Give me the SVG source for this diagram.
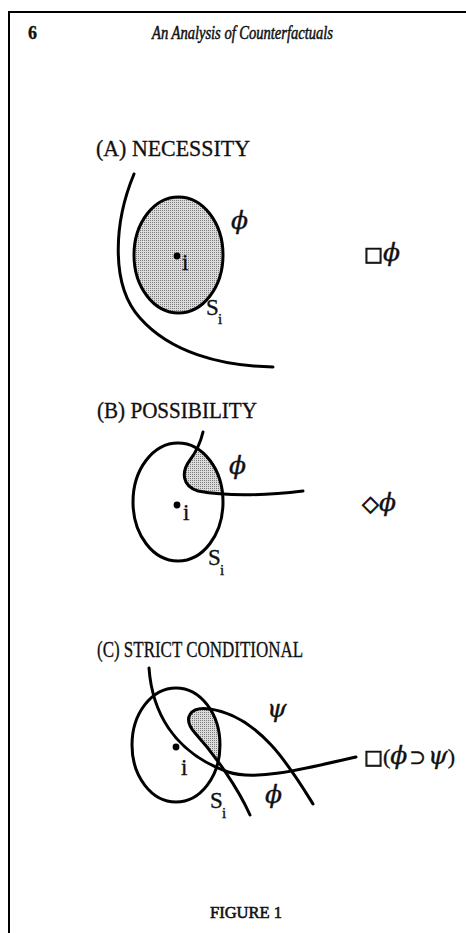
<svg xmlns="http://www.w3.org/2000/svg" width="466" height="933" viewBox="0 0 466 933">
<style>
.ln{fill:none;stroke:#000;stroke-width:3;stroke-linecap:round;stroke-linejoin:round}
.t{font-family:"Liberation Serif","DejaVu Serif",serif;fill:#111;stroke:#111;stroke-width:0.35}
.it{font-style:italic}
.hd{font-size:24px}
.lab{font-size:23px}
.sub{font-size:15px}
.gr{font-family:"DejaVu Serif","Liberation Serif",serif;font-size:25px;font-style:italic}
.sym{font-family:"DejaVu Sans",sans-serif;stroke-width:0.8}
</style>
<defs>
<pattern id="stip" width="2" height="2" patternUnits="userSpaceOnUse">
<rect width="2" height="2" fill="#dcdcdc"/>
<rect width="1" height="1" fill="#7a7a7a"/>
</pattern>
<clipPath id="clipB"><ellipse cx="178" cy="502" rx="45" ry="59"/></clipPath>
<clipPath id="clipC"><ellipse cx="176" cy="745" rx="44" ry="57"/></clipPath>
</defs>
<rect width="466" height="933" fill="#fff"/>
<g id="frame">
<path d="M9,933 V12 H466" fill="none" stroke="#000" stroke-width="2"/>
</g>
<g id="header">
<text class="t" x="28" y="39" font-size="18" font-weight="bold">6</text>
<text class="t it" x="152" y="39" font-size="18" textLength="181" lengthAdjust="spacingAndGlyphs" style="stroke-width:0.5">An Analysis of Counterfactuals</text>
</g>
<g id="panelA">
<text class="t hd" x="96" y="156" textLength="154" lengthAdjust="spacingAndGlyphs">(A) NECESSITY</text>
<g id="A-Si">
<ellipse cx="178.5" cy="255" rx="44.5" ry="58" class="ln" style="fill:url(#stip)"/>
<circle cx="177" cy="256" r="3.4" fill="#000"/>
<text class="t lab" x="182" y="270">i</text>
<text class="t lab" x="206" y="315">S</text>
<text class="t sub" x="218" y="324">i</text>
</g>
<g id="A-phi">
<path class="ln" d="M134,174 C114,222 110,285 140,318 C170,352 220,366 273,367"/>
<text class="t gr" x="231" y="229">ϕ</text>
</g>
<text class="t" x="364" y="261"><tspan class="sym" font-size="20">□</tspan><tspan class="gr">ϕ</tspan></text>
</g>
<g id="panelB">
<text class="t hd" x="97" y="418" textLength="160" lengthAdjust="spacingAndGlyphs">(B) POSSIBILITY</text>
<g id="B-Si">
<path clip-path="url(#clipB)" fill="url(#stip)" d="M203,432 C200,445 196,452 190,460 C181,472 182,486 198,491 C225,496 260,496 303,491 L303,420 L203,420 Z"/>
<ellipse class="ln" cx="178" cy="502" rx="45" ry="59"/>
<circle cx="177" cy="505" r="3.4" fill="#000"/>
<text class="t lab" x="183" y="520">i</text>
<text class="t lab" x="208" y="565">S</text>
<text class="t sub" x="220" y="575">i</text>
</g>
<g id="B-phi">
<path class="ln" d="M203,432 C200,445 196,452 190,460 C181,472 182,486 198,491 C225,496 260,496 303,491"/>
<text class="t gr" x="229" y="474">ϕ</text>
</g>
<text class="t" x="362" y="511"><tspan class="sym" font-size="22">◇</tspan><tspan class="gr">ϕ</tspan></text>
</g>
<g id="panelC">
<text class="t hd" x="97" y="657" textLength="206" lengthAdjust="spacingAndGlyphs">(C) STRICT CONDITIONAL</text>
<g id="C-Si">
<path clip-path="url(#clipC)" fill="url(#stip)" d="M250,815 C238,788 215,755 195,733 C182,718 190,706 210,709 C260,716 292,770 313,804 Z"/>
<ellipse class="ln" cx="176" cy="745" rx="44" ry="57"/>
<circle cx="176" cy="747" r="3.4" fill="#000"/>
<text class="t lab" x="181" y="775">i</text>
<text class="t lab" x="210" y="808">S</text>
<text class="t sub" x="222" y="818">i</text>
</g>
<g id="C-phi">
<path class="ln" d="M149,668 C152,710 172,752 228,772 C255,781 300,770 356,757"/>
<text class="t gr" x="265" y="803">ϕ</text>
</g>
<g id="C-psi">
<path class="ln" d="M250,815 C238,788 215,755 195,733 C182,718 190,706 210,709 C260,716 292,770 313,804"/>
<text class="t gr" x="267" y="717">ψ</text>
</g>
<text class="t" x="364" y="764"><tspan class="sym" font-size="20">□</tspan><tspan font-size="22">(</tspan><tspan class="gr">ϕ</tspan><tspan font-size="20" dx="2">⊃</tspan><tspan class="gr" dx="2">ψ</tspan><tspan font-size="22">)</tspan></text>
</g>
<g id="caption">
<text class="t" x="210" y="918" font-size="17" textLength="72" lengthAdjust="spacingAndGlyphs" style="stroke-width:0.6">FIGURE 1</text>
</g>
</svg>
